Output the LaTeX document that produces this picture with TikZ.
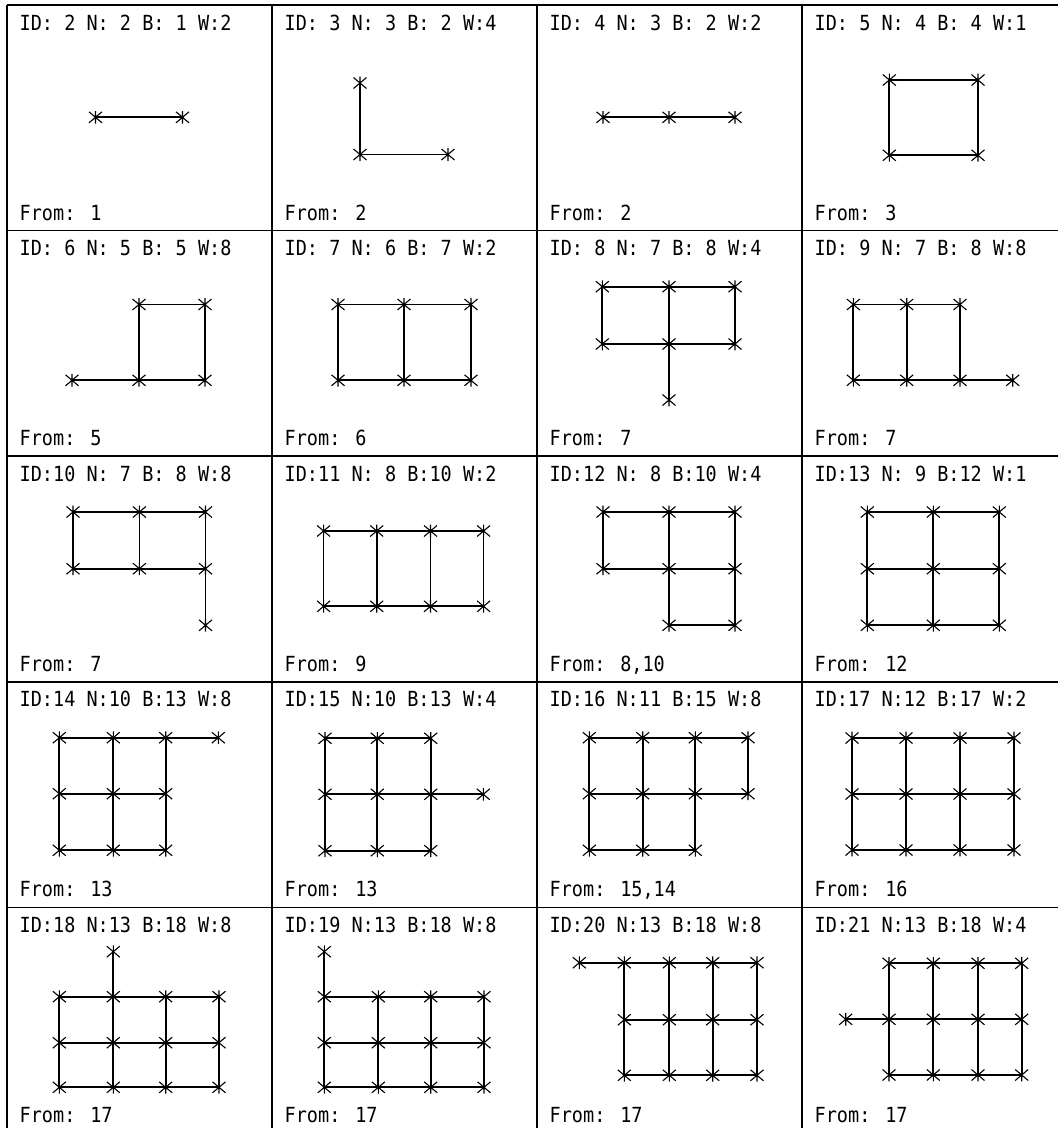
\documentclass[tikz,border=0pt]{standalone}
\usepackage{fontspec}
\newfontfamily\cadfont[FakeStretch=0.89]{DejaVu Sans Mono}
\tikzset{
  link/.style={line width=1.7pt, line cap=round},
  mkline/.style={line width=1.1pt},
  star/.pic={\draw[mkline] (-6.5,-5.5)--(6.5,5.5) (-6.5,5.5)--(6.5,-5.5) (0,-6.3)--(0,6.3);},
  frame/.style={line width=1.6pt},
  hdr/.style={anchor=base west, inner sep=0pt, font=\cadfont\fontsize{20.8}{24}\selectfont},
}
\newcommand\vtx[3]{\coordinate (#1) at (#2,#3); \path (#1) pic{star};}
\newcommand\gridnodes[3]{%
  \foreach \c/\xx in {#2}{\foreach \r/\yy in {#3}{%
    \coordinate (#1-\r-\c) at (\xx,\yy); \path (#1-\r-\c) pic{star};}}}
\newcommand\fullgrid[3]{%
  \foreach \r in {1,...,#3}{\foreach \c in {2,...,#2}{%
    \pgfmathtruncatemacro\pc{\c-1}\draw[link] (#1-\r-\pc) -- (#1-\r-\c);}}%
  \foreach \c in {1,...,#2}{\foreach \r in {2,...,#3}{%
    \pgfmathtruncatemacro\pr{\r-1}\draw[link] (#1-\pr-\c) -- (#1-\r-\c);}}}
\newcommand\celltext[5]{%
  \node[hdr] (h#5) at ({7+265*#1+12.5},{5+225.6*#2+25}) {#3};
  \node[hdr] (f#5) at ({7+265*#1+12.5},{5+225.6*(#2+1)-10.5}) {From: #4};}
\begin{document}
\begin{tikzpicture}[x=1pt,y=-1pt]
\useasboundingbox (0,0) rectangle (1058,1128);
\clip (0,0) rectangle (1058,1128);
% frame
\foreach \j in {0,...,4} \draw[frame] ({7+265*\j},5) -- ({7+265*\j},1134);
\foreach \i in {0,...,5} \draw[frame] (7,{5+225.6*\i}) -- (1068,{5+225.6*\i});
% texts
\celltext{0}{0}{ID: 2 N: 2 B: 1 W:2}{1}{2}
\celltext{1}{0}{ID: 3 N: 3 B: 2 W:4}{2}{3}
\celltext{2}{0}{ID: 4 N: 3 B: 2 W:2}{2}{4}
\celltext{3}{0}{ID: 5 N: 4 B: 4 W:1}{3}{5}
\celltext{0}{1}{ID: 6 N: 5 B: 5 W:8}{5}{6}
\celltext{1}{1}{ID: 7 N: 6 B: 7 W:2}{6}{7}
\celltext{2}{1}{ID: 8 N: 7 B: 8 W:4}{7}{8}
\celltext{3}{1}{ID: 9 N: 7 B: 8 W:8}{7}{9}
\celltext{0}{2}{ID:10 N: 7 B: 8 W:8}{7}{10}
\celltext{1}{2}{ID:11 N: 8 B:10 W:2}{9}{11}
\celltext{2}{2}{ID:12 N: 8 B:10 W:4}{8,10}{12}
\celltext{3}{2}{ID:13 N: 9 B:12 W:1}{12}{13}
\celltext{0}{3}{ID:14 N:10 B:13 W:8}{13}{14}
\celltext{1}{3}{ID:15 N:10 B:13 W:4}{13}{15}
\celltext{2}{3}{ID:16 N:11 B:15 W:8}{15,14}{16}
\celltext{3}{3}{ID:17 N:12 B:17 W:2}{16}{17}
\celltext{0}{4}{ID:18 N:13 B:18 W:8}{17}{18}
\celltext{1}{4}{ID:19 N:13 B:18 W:8}{17}{19}
\celltext{2}{4}{ID:20 N:13 B:18 W:8}{17}{20}
\celltext{3}{4}{ID:21 N:13 B:18 W:4}{17}{21}
% ID 2
\gridnodes{p2}{1/95.5,2/182.5}{1/117.3}
\draw[link] (p2-1-1) -- (p2-1-2);
% ID 3
\vtx{p3-a}{360}{83}\vtx{p3-b}{360}{154.5}\vtx{p3-c}{448}{154.5}
\draw[link] (p3-a) -- (p3-b) -- (p3-c);
% ID 4
\gridnodes{p4}{1/603,2/669,3/735}{1/117.3}
\draw[link] (p4-1-1) -- (p4-1-2) -- (p4-1-3);
% ID 5
\gridnodes{p5}{1/889.3,2/978}{1/80,2/155.3}
\fullgrid{p5}{2}{2}
% ID 6
\gridnodes{p6}{1/139,2/205}{1/304.5,2/380.3}
\fullgrid{p6}{2}{2}
\vtx{p6-x}{72}{380.3}
\draw[link] (p6-x) -- (p6-2-1);
% ID 7
\gridnodes{p7}{1/338,2/404,3/471}{1/304.5,2/380.3}
\fullgrid{p7}{3}{2}
% ID 8
\gridnodes{p8}{1/602.3,2/669,3/735}{1/286.7,2/344}
\fullgrid{p8}{3}{2}
\vtx{p8-x}{669}{400}
\draw[link] (p8-2-2) -- (p8-x);
% ID 9
\gridnodes{p9}{1/853.3,2/906.7,3/960}{1/304.5,2/380.3}
\fullgrid{p9}{3}{2}
\vtx{p9-x}{1012.7}{380.3}
\draw[link] (p9-2-3) -- (p9-x);
% ID 10
\gridnodes{p10}{1/73,2/139.4,3/205.5}{1/512,2/568.7}
\fullgrid{p10}{3}{2}
\vtx{p10-x}{205.5}{625.3}
\draw[link] (p10-2-3) -- (p10-x);
% ID 11
\gridnodes{p11}{1/323.6,2/376.7,3/430.5,4/483.6}{1/531,2/606.3}
\fullgrid{p11}{4}{2}
% ID 12
\gridnodes{p12}{1/603,2/669,3/735}{1/512,2/568.7}
\fullgrid{p12}{3}{2}
\vtx{p12-a}{669}{625.3}\vtx{p12-b}{735}{625.3}
\draw[link] (p12-2-2) -- (p12-a) -- (p12-b) -- (p12-2-3);
% ID 13
\gridnodes{p13}{1/867.3,2/933.3,3/999.3}{1/512,2/568.7,3/625.3}
\fullgrid{p13}{3}{3}
% ID 14
\gridnodes{p14}{1/59.3,2/113.3,3/165.7}{1/737.7,2/793.7,3/850.3}
\fullgrid{p14}{3}{3}
\vtx{p14-x}{218.3}{737.7}
\draw[link] (p14-1-3) -- (p14-x);
% ID 15
\gridnodes{p15}{1/325,2/377.3,3/430.7}{1/738.3,2/794.3,3/850.7}
\fullgrid{p15}{3}{3}
\vtx{p15-x}{483.3}{794.3}
\draw[link] (p15-2-3) -- (p15-x);
% ID 16
\gridnodes{p16}{1/589.3,2/642.7,3/695.3}{1/737.7,2/793.7,3/850.3}
\fullgrid{p16}{3}{3}
\vtx{p16-a}{748}{737.7}\vtx{p16-b}{748}{793.7}
\draw[link] (p16-1-3) -- (p16-a) -- (p16-b) -- (p16-2-3);
% ID 17
\gridnodes{p17}{1/852,2/906,3/960,4/1014}{1/738,2/794,3/850}
\fullgrid{p17}{4}{3}
% ID 18
\gridnodes{p18}{1/59.3,2/113.3,3/165.7,4/219}{1/996.7,2/1042.7,3/1087.3}
\fullgrid{p18}{4}{3}
\vtx{p18-x}{113.3}{951.7}
\draw[link] (p18-x) -- (p18-1-2);
% ID 19
\gridnodes{p19}{1/324.3,2/378.3,3/430.7,4/484}{1/996.7,2/1042.7,3/1087.3}
\fullgrid{p19}{4}{3}
\vtx{p19-x}{324.3}{951.7}
\draw[link] (p19-x) -- (p19-1-1);
% ID 20
\gridnodes{p20}{1/624.3,2/669.3,3/712.7,4/757}{1/962.7,2/1019.7,3/1075.3}
\fullgrid{p20}{4}{3}
\vtx{p20-x}{579.3}{962.7}
\draw[link] (p20-x) -- (p20-1-1);
% ID 21
\gridnodes{p21}{1/889,2/933.3,3/978,4/1021.7}{1/963.3,2/1019.3,3/1075}
\fullgrid{p21}{4}{3}
\vtx{p21-x}{845.7}{1019.3}
\draw[link] (p21-x) -- (p21-2-1);
\end{tikzpicture}
\end{document}
